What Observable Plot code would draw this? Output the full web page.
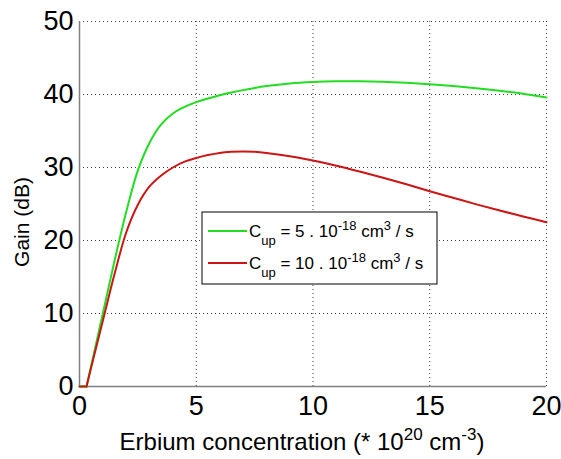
<!DOCTYPE html>
<html><head><meta charset="utf-8">
<script src="https://cdn.jsdelivr.net/npm/d3@7"></script>
<script src="https://cdn.jsdelivr.net/npm/@observablehq/plot@0.6"></script>
<style>body{margin:0;background:#fff} svg{font-family:"Liberation Sans",Arial,sans-serif}</style>
</head><body><div id="chart"></div>
<script>
const concentration = [0,0.3,0.6,1.0,1.5,2.0,2.5,3.0,3.5,4.0,4.5,5,5.5,6,6.5,7,7.5,8,9,10,11,12,13,14,15,16,17,18,19,20];
const gainCup5  = [0,0,4.3,10,17.2,23.9,29.6,33.4,35.9,37.4,38.3,38.95,39.45,39.9,40.27,40.6,40.9,41.15,41.5,41.7,41.8,41.82,41.75,41.6,41.4,41.15,40.85,40.5,40.1,39.6];
const gainCup10 = [0,0,3.9,9.0,15.4,21.1,24.9,27.4,28.9,30.0,30.8,31.3,31.7,32.0,32.15,32.2,32.15,32.0,31.55,30.95,30.25,29.45,28.6,27.7,26.75,25.85,24.95,24.1,23.3,22.5];
const seriesNames = ["5", "10"];
const seriesColors = ["#22dd22", "#cc1515"];
const xTicks = [0,5,10,15,20];
const yTicks = [0,10,20,30,40,50];
const threshold = 0.3; // gain stays at 0 below this concentration

const rows = [];
concentration.forEach((c,i)=>{
  rows.push({c, g: gainCup5[i], s: seriesNames[0]});
});
concentration.forEach((c,i)=>{
  rows.push({c, g: gainCup10[i], s: seriesNames[1]});
});
const flat = rows.filter(d => d.c <= threshold);
const curve = rows.filter(d => d.c >= threshold);

const W = 561, H = 459;
const plot = Plot.plot({
  width: W, height: H,
  marginLeft: 79, marginRight: 15, marginTop: 21, marginBottom: 73,
  style: {fontFamily: '"Liberation Sans", Arial, sans-serif', background: "#fff"},
  x: {domain: [0,20], ticks: xTicks},
  y: {domain: [0,50], ticks: yTicks},
  color: {domain: seriesNames, range: seriesColors},
  marks: [
    Plot.gridX(xTicks.slice(1), {stroke: "#000", strokeOpacity: 0.75, strokeDasharray: "1,3"}),
    Plot.gridY(yTicks.slice(1), {stroke: "#000", strokeOpacity: 0.75, strokeDasharray: "1,3"}),
    Plot.ruleX([0], {stroke: "#808080", strokeWidth: 1.5}),
    Plot.ruleY([0], {stroke: "#808080", strokeWidth: 1.5}),
    Plot.axisX({ticks: xTicks, tickSize: 0, tickPadding: 9, fontSize: 27, label: null, fill: "#000"}),
    Plot.axisY({ticks: yTicks, tickSize: 0, tickPadding: 6, fontSize: 27, label: null, fill: "#000"}),
    Plot.line(flat, {x: "c", y: "g", z: "s", stroke: "s", strokeWidth: 2}),
    Plot.line(curve, {x: "c", y: "g", z: "s", stroke: "s", strokeWidth: 2, curve: "catmull-rom"})
  ]
});
document.getElementById("chart").appendChild(plot);

const svg = d3.select(plot);
// y label
svg.append("text")
  .attr("transform", "translate(29,222) rotate(-90)")
  .attr("text-anchor", "middle")
  .attr("font-size", 21)
  .attr("fill", "#000")
  .text("Gain (dB)");
// x label
const xl = svg.append("text")
  .attr("x", 302).attr("y", 450)
  .attr("text-anchor", "middle")
  .attr("font-size", 24)
  .attr("fill", "#000");
xl.append("tspan").text("Erbium concentration (* 10");
xl.append("tspan").attr("font-size", 17).attr("dy", -10).text("20");
xl.append("tspan").attr("dy", 10).text(" cm");
xl.append("tspan").attr("font-size", 17).attr("dy", -10).text("-3");
xl.append("tspan").attr("dy", 10).text(")");

// legend
const lg = svg.append("g").attr("text-anchor", "start");
lg.append("rect").attr("x", 202).attr("y", 212).attr("width", 235).attr("height", 72)
  .attr("fill", "#fff").attr("stroke", "#000").attr("stroke-width", 1);
seriesNames.forEach((n, i) => {
  const y = 231 + i * 32;
  lg.append("line").attr("x1", 208).attr("x2", 247).attr("y1", y).attr("y2", y)
    .attr("stroke", seriesColors[i]).attr("stroke-width", 2);
  const t = lg.append("text").attr("x", 249).attr("y", y + 6).attr("font-size", 17)
    .attr("text-anchor", "start").attr("fill", "#000");
  t.append("tspan").text("C");
  t.append("tspan").attr("font-size", 13).attr("dy", 8).text("up");
  t.append("tspan").attr("dy", -8).text(" = " + n + " . 10");
  t.append("tspan").attr("font-size", 13).attr("dy", -7).text("-18");
  t.append("tspan").attr("dy", 7).text(" cm");
  t.append("tspan").attr("font-size", 13).attr("dy", -7).text("3");
  t.append("tspan").attr("dy", 7).text(" / s");
});
</script></body></html>
